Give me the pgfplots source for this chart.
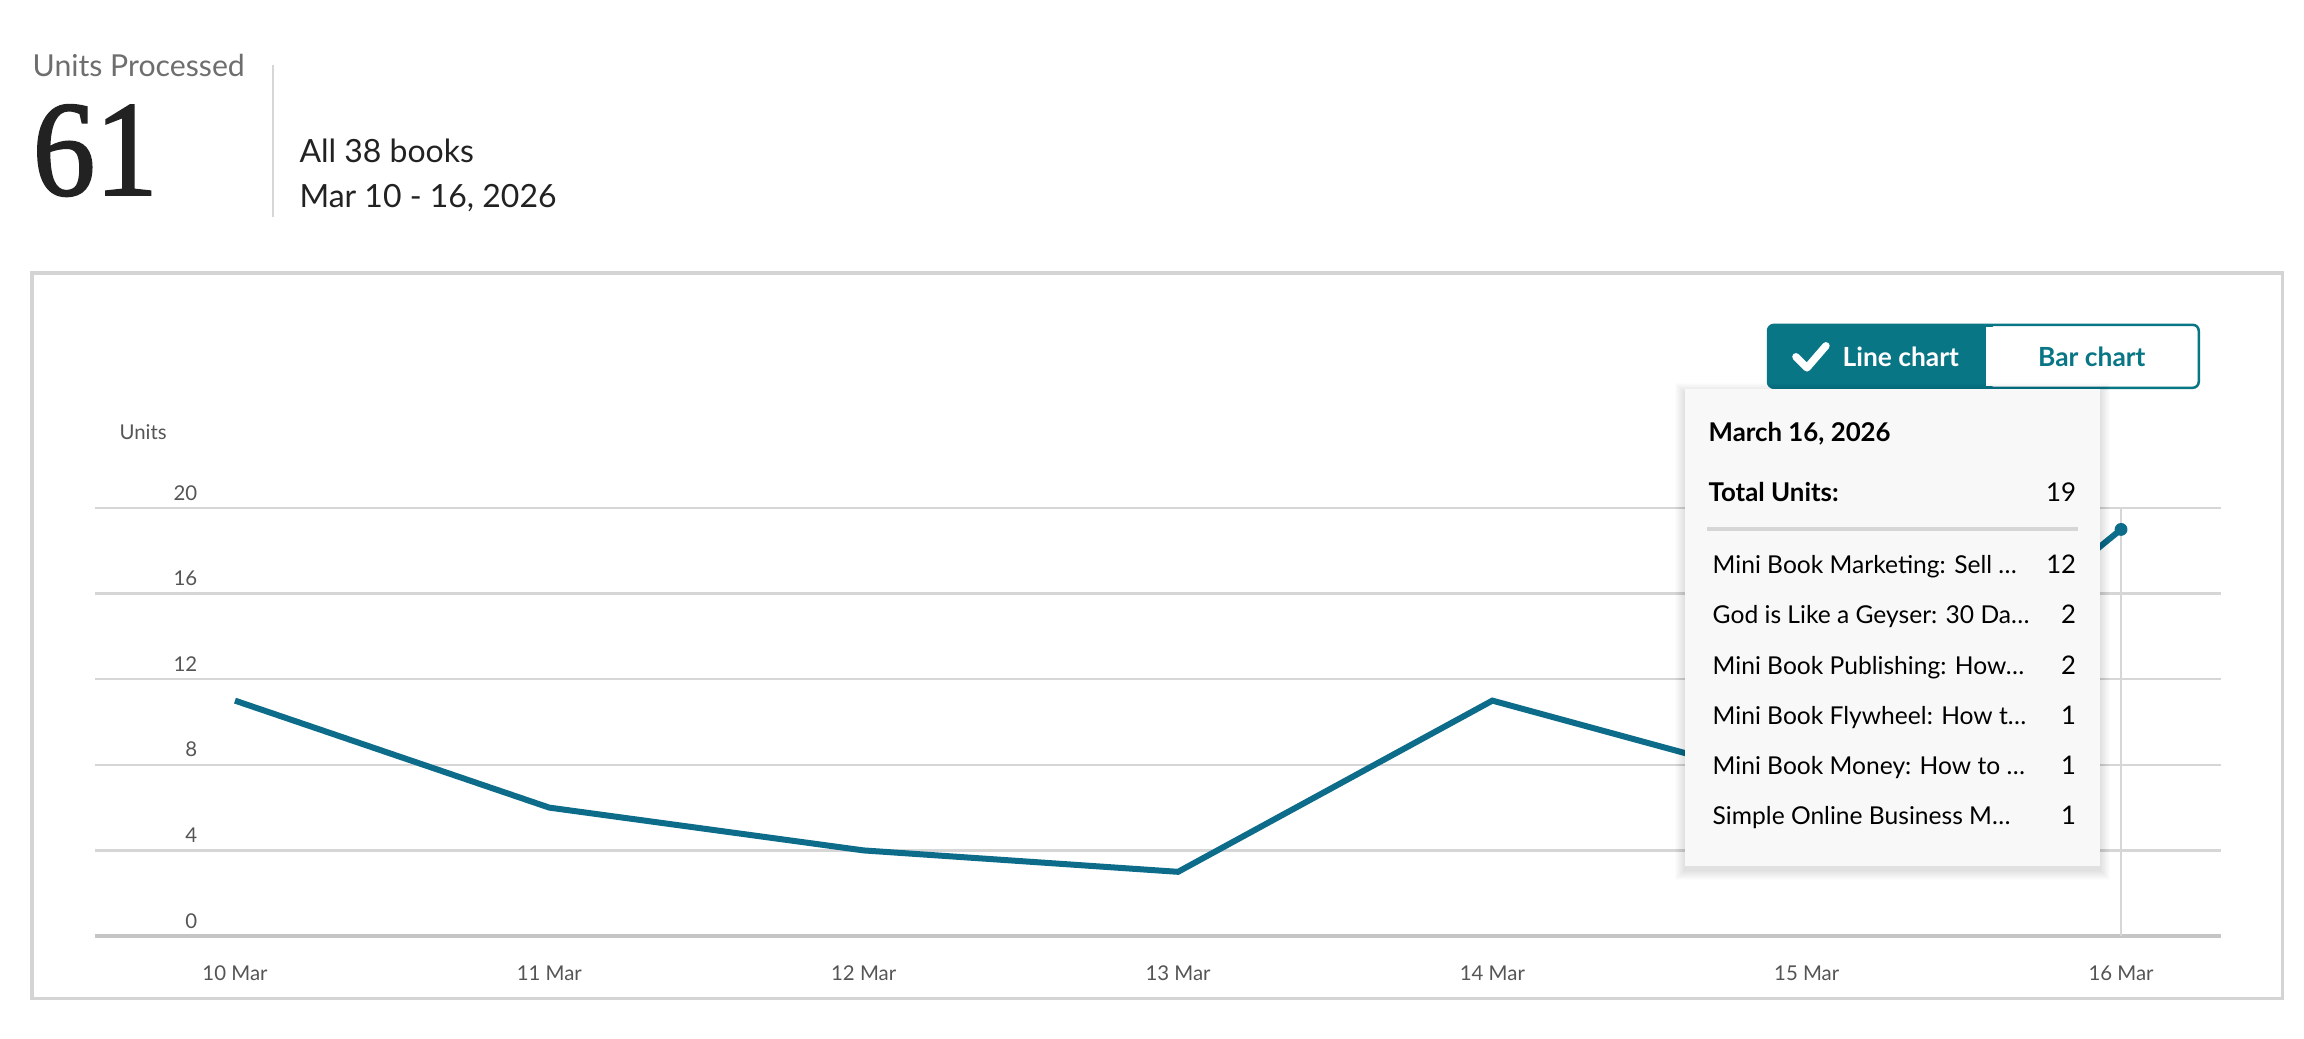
\documentclass[border=0pt]{standalone}
\usepackage{pgfplots}
\pgfplotsset{compat=1.18}
\usepackage{fontspec}
\setmainfont{Lato}
\newfontfamily\serifnum[FakeBold=1.6]{Liberation Serif}
\definecolor{linecol}{RGB}{13,108,137}
\definecolor{btn}{RGB}{9,118,134}
\definecolor{gridc}{RGB}{214,214,214}
\definecolor{framec}{RGB}{212,212,212}
\definecolor{tickc}{RGB}{85,85,85}
\definecolor{tipbg}{RGB}{248,248,248}
\definecolor{hdrgray}{RGB}{110,110,110}
\definecolor{txt}{RGB}{34,34,34}

\begin{document}
\begin{tikzpicture}
\begin{scope}[x=0.01cm,y=-0.01cm]
\fill[white] (0,0) rectangle (2304,1038);
% header
\node[anchor=base west, inner sep=0, text=hdrgray, font=\fontsize{8.6}{10}\selectfont] at (32,76.5) {Units Processed};
\node[anchor=base west, inner sep=0, text=txt, font=\fontsize{38.7}{40}\selectfont\serifnum] at (32,195) {\scalebox{0.92}[1]{61}};
\draw[color=gridc, line width=0.02cm] (273,65) -- (273,217);
\node[anchor=base west, inner sep=0, text=txt, font=\fontsize{9.1}{11}\selectfont] at (299,162.7) {All 38 books};
\node[anchor=base west, inner sep=0, text=txt, font=\fontsize{9.1}{11}\selectfont] at (299,208) {Mar 10 - 16, 2026};
% frame
\draw[color=framec, line width=0.035cm] (32,273) rectangle (2284,999);
% Units label
\node[anchor=base west, inner sep=0, text=tickc, font=\fontsize{5.8}{7}\selectfont] at (119,440) {Units};
\end{scope}

\begin{axis}[
  at={(0.95cm,-9.36cm)}, anchor=south west,
  scale only axis, width=21.26cm, height=4.28cm,
  xmin=-0.4454, xmax=6.318, ymin=0, ymax=20,
  clip=false,
  axis line style={draw=none},
  major tick length=0pt,
  xtick={0,1,2,3,4,5,6},
  xticklabels={10 Mar,11 Mar,12 Mar,13 Mar,14 Mar,15 Mar,16 Mar},
  ytick={0,4,8,12,16,20},
  ymajorgrids,
  grid style={color=gridc, line width=0.025cm},
  /pgf/number format/assume math mode=true,
  tick label style={text=tickc, font=\fontsize{5.8}{7}\selectfont, inner sep=0pt},
  xticklabel style={anchor=base, yshift=-0.44cm},
  yticklabel style={anchor=base east, xshift=1.03cm, yshift=0.08cm},
]
\draw[color=gridc!92!black, line width=0.035cm] (axis cs:-0.4454,0) -- (axis cs:6.318,0);
\draw[color=gridc, line width=0.02cm] (axis cs:6,0) -- (axis cs:6,20);
\addplot[color=linecol, line width=0.06cm, mark=none] coordinates {
  (0,11) (1,6) (2,4) (3,3) (4,11) (5,7) (6,19)
};
\addplot[color=linecol, only marks, mark=*, mark size=0.057cm] coordinates {(6,19)};
\end{axis}

\begin{scope}[x=0.01cm,y=-0.01cm]
% buttons
\fill[btn, rounded corners=0.06cm] (1769,325) rectangle (1996,388);
\fill[white] (1987,327) rectangle (2196,386);
\draw[btn, line width=0.025cm, rounded corners=0.06cm] (1769,325) rectangle (2200,388);
\draw[white, line width=0.075cm, line cap=round, line join=round] (1797,357) -- (1808,368) -- (1827,346);
\node[anchor=base west, inner sep=0, text=white, font=\fontsize{7.5}{9}\selectfont\bfseries] at (1843,366.5) {Line chart};
\node[anchor=base, inner sep=0, text=btn, font=\fontsize{7.5}{9}\selectfont\bfseries] at (2093,366.5) {Bar chart};
% tooltip shadow
\foreach \i in {1,...,10} {
  \fill[black, opacity=0.01] (1686-\i,389-\i+4) rectangle (2101+\i,866+\i+4);
}
\fill[tipbg] (1686,389) rectangle (2101,866);
\node[anchor=base west, inner sep=0, text=black, font=\fontsize{7.35}{9}\selectfont\bfseries] at (1709,442) {March 16, 2026};
\node[anchor=base west, inner sep=0, text=black, font=\fontsize{7.35}{9}\selectfont\bfseries] at (1709,502) {Total Units:};
\node[anchor=base east, inner sep=0, text=black, font=\fontsize{7.35}{9}\selectfont] at (2078,502) {19};
\draw[color=gridc, line width=0.04cm] (1708,529) -- (2079,529);
\foreach \t/\v [count=\k from 0] in {Mini Book Marketing: Sell …/12, God is Like a Geyser: 30 Da…/2, Mini Book Publishing: How…/2, Mini Book Flywheel: How t…/1, Mini Book Money: How to …/1, Simple Online Business M…/1} {
  \node[anchor=base west, inner sep=0, text=black, font=\fontsize{7.0}{9}\selectfont] at (1713,574+50.2*\k) {\t};
  \node[anchor=base east, inner sep=0, text=black, font=\fontsize{7.3}{9}\selectfont] at (2078,574+50.2*\k) {\v};
}
\end{scope}
\pgfresetboundingbox
\path[use as bounding box] (0,0) rectangle (23.04,-10.38);
\end{tikzpicture}
\end{document}
